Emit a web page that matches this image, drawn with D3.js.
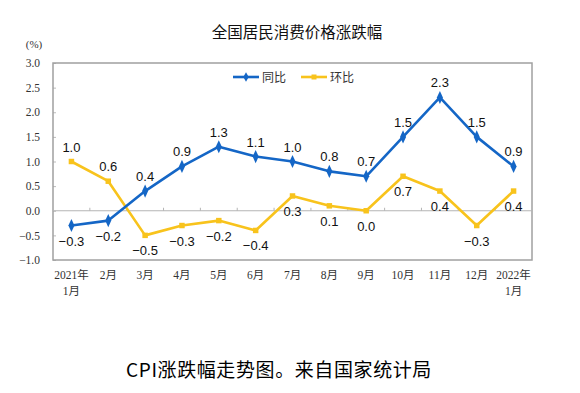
<!DOCTYPE html>
<html>
<head>
<meta charset="utf-8">
<script src="https://cdn.jsdelivr.net/npm/d3@7"></script>
<style>
body { margin: 0; background: #fff; }
</style>
</head>
<body>
<svg id="thesvg" width="580" height="393"></svg>
<script>
var months = ["2021年\n1月", "2月", "3月", "4月", "5月", "6月", "7月", "8月", "9月", "10月", "11月", "12月", "2022年\n1月"];
var yoy = [-0.3, -0.2, 0.4, 0.9, 1.3, 1.1, 1.0, 0.8, 0.7, 1.5, 2.3, 1.5, 0.9];
var mom = [1.0, 0.6, -0.5, -0.3, -0.2, -0.4, 0.3, 0.1, 0.0, 0.7, 0.4, -0.3, 0.4];
// which side of the point each value label sits on: 1 above, -1 below
var yoyPlace = [-1, -1, 1, 1, 1, 1, 1, 1, 1, 1, 1, 1, 1];
var momPlace = [1, 1, -1, -1, -1, -1, -1, -1, -1, -1, -1, -1, -1];
var yTicks = [-1.0, -0.5, 0.0, 0.5, 1.0, 1.5, 2.0, 2.5, 3.0];

var blue = "#1466c6";
var yellow = "#f8c31c";
var plotL = 53, plotR = 532, plotT = 63, plotB = 260;

var svg = d3.select("#thesvg");

var x = d3.scaleBand().domain(months).range([plotL, plotR]).padding(0);
var y = d3.scaleLinear().domain([-1, 3]).range([plotB, plotT]);
var cx = function(i) { return x(months[i]) + x.bandwidth() / 2; };

// title
svg.append("text")
    .attr("x", 297).attr("y", 38)
    .attr("text-anchor", "middle")
    .style("font-family", "'Noto Sans CJK SC', sans-serif")
    .style("font-size", "15.5px")
    .style("fill", "#111")
    .text("全国居民消费价格涨跌幅");

svg.append("text")
    .attr("x", 34).attr("y", 48)
    .attr("text-anchor", "middle")
    .style("font-family", "'Liberation Serif', serif")
    .style("font-size", "11px")
    .style("fill", "#333")
    .text("(%)");

// y axis labels + inner ticks
var yAxis = d3.axisLeft(y).tickValues(yTicks).tickFormat(d3.format(".1f")).tickSize(-3).tickPadding(13);
var gy = svg.append("g").attr("transform", `translate(${plotL},0)`).call(yAxis);
gy.select(".domain").remove();
gy.selectAll(".tick line").attr("stroke", "#bbb");
gy.selectAll(".tick text")
    .style("font-family", "'Liberation Serif', serif")
    .style("font-size", "11.5px")
    .style("fill", "#333");

// plot frame
svg.append("rect")
    .attr("x", plotL).attr("y", plotT)
    .attr("width", plotR - plotL).attr("height", plotB - plotT)
    .attr("fill", "none").attr("stroke", "#a0a0a0").attr("stroke-width", 1.5);

// zero line with category ticks
svg.append("line")
    .attr("x1", plotL).attr("x2", plotR)
    .attr("y1", y(0)).attr("y2", y(0))
    .attr("stroke", "#b4b4b4").attr("stroke-width", 1.2);
svg.selectAll(".ztick").data(months.slice(1))
    .enter().append("line")
    .attr("x1", function(d) { return x(d); })
    .attr("x2", function(d) { return x(d); })
    .attr("y1", y(0) - 3).attr("y2", y(0))
    .attr("stroke", "#b4b4b4").attr("stroke-width", 1);

// x labels
var xl = svg.selectAll(".xlab").data(months).enter().append("text")
    .attr("text-anchor", "middle")
    .attr("x", function(d) { return x(d) + x.bandwidth() / 2; })
    .attr("y", 279)
    .style("font-family", "'Liberation Serif', 'Noto Sans CJK SC', serif")
    .style("font-size", "11.5px")
    .style("fill", "#333");
xl.each(function(d) {
    var parts = d.split("\n");
    var t = d3.select(this);
    for (var k = 0; k < parts.length; k++) {
        t.append("tspan").attr("x", t.attr("x")).attr("dy", k == 0 ? 0 : 16).text(parts[k]);
    }
});

var line = d3.line().x(function(d, i) { return cx(i); }).y(function(d) { return y(d); });

function drawSeries(vals, color, place, shape, size) {
    svg.append("path").datum(vals)
        .attr("d", line)
        .attr("fill", "none").attr("stroke", color).attr("stroke-width", 2.6)
        .attr("stroke-linejoin", "round");
    svg.selectAll(null).data(vals).enter().append("path")
        .attr("d", d3.symbol().type(shape).size(size))
        .attr("transform", function(d, i) {
            return `translate(${cx(i)},${y(d)})` + (shape == d3.symbolSquare ? "" : " scale(0.8,1)");
        })
        .attr("fill", color);
    svg.selectAll(null).data(vals).enter().append("text")
        .attr("text-anchor", "middle")
        .attr("x", function(d, i) { return cx(i); })
        .attr("y", function(d, i) { return y(d) - place[i] * 15 + 5; })
        .style("font-family", "'Liberation Sans', Arial, sans-serif")
        .style("font-size", "13px")
        .style("fill", "#111")
        .text(function(d) { return d3.format(".1f")(d); });
}

drawSeries(mom, yellow, momPlace, d3.symbolSquare, 30);
drawSeries(yoy, blue, yoyPlace, d3.symbolDiamond, 50);

// legend
var legend = [["同比", blue, d3.symbolDiamond, 233], ["环比", yellow, d3.symbolSquare, 301]];
legend.forEach(function(l) {
    svg.append("line").attr("x1", l[3]).attr("x2", l[3] + 26).attr("y1", 77).attr("y2", 77)
        .attr("stroke", l[1]).attr("stroke-width", 2.6);
    svg.append("path").attr("d", d3.symbol().type(l[2]).size(25)())
        .attr("transform", `translate(${l[3] + 13},77)`).attr("fill", l[1]);
    svg.append("text").attr("x", l[3] + 29).attr("y", 81.5)
        .style("font-family", "'Noto Sans CJK SC', sans-serif")
        .style("font-size", "12px").style("fill", "#333")
        .text(l[0]);
});

// caption
svg.append("text")
    .attr("x", 279).attr("y", 377)
    .attr("text-anchor", "middle")
    .style("font-family", "'Noto Sans CJK SC', sans-serif")
    .style("font-size", "19px")
    .style("letter-spacing", "0.6px")
    .style("fill", "#000")
    .text("CPI涨跌幅走势图。来自国家统计局");
</script>
</body>
</html>
